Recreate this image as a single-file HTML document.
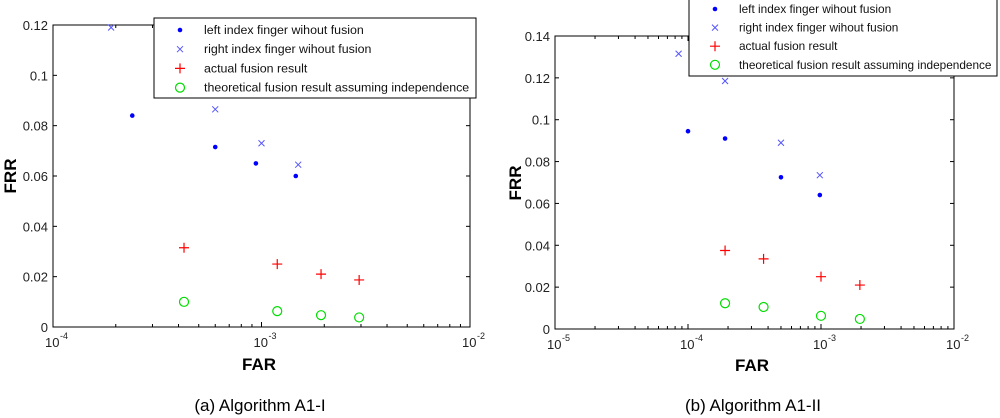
<!DOCTYPE html>
<html><head><meta charset="utf-8"><style>
html,body{margin:0;padding:0;background:#fff;width:1000px;height:418px;overflow:hidden}
svg{display:block;font-family:"Liberation Sans",Arial,sans-serif}
</style></head><body>
<svg id="svg" width="1000" height="418"></svg>
<script>
// Chart A data
const aLeftX=[2.4e-4,6e-4,9.4e-4,1.46e-3], aLeftY=[0.084,0.0715,0.065,0.060];
const aRightX=[1.9e-4,6e-4,1e-3,1.5e-3], aRightY=[0.119,0.0865,0.073,0.0645];
const aActX=[4.25e-4,1.19e-3,1.93e-3,2.94e-3], aActY=[0.0315,0.025,0.021,0.0187];
const aTheoX=[4.25e-4,1.19e-3,1.93e-3,2.94e-3], aTheoY=[0.010,0.0063,0.0047,0.0038];
const aYTicks=[0,0.02,0.04,0.06,0.08,0.1,0.12];
const aYLabels=["0","0.02","0.04","0.06","0.08","0.1","0.12"];
const aXExp=[-4,-3,-2];
// Chart B data
const bLeftX=[1e-4,1.9e-4,5e-4,9.8e-4], bLeftY=[0.0945,0.091,0.0725,0.064];
const bRightX=[8.5e-5,1.9e-4,5e-4,9.8e-4], bRightY=[0.1315,0.1185,0.089,0.0735];
const bActX=[1.9e-4,3.7e-4,1e-3,1.96e-3], bActY=[0.0375,0.0335,0.025,0.021];
const bTheoX=[1.9e-4,3.7e-4,1e-3,1.96e-3], bTheoY=[0.0123,0.0105,0.0063,0.0048];
const bYTicks=[0,0.02,0.04,0.06,0.08,0.1,0.12,0.14];
const bYLabels=["0","0.02","0.04","0.06","0.08","0.1","0.12","0.14"];
const bXExp=[-5,-4,-3,-2];
const legendLabels=["left index finger wihout fusion","right index finger wihout fusion","actual fusion result","theoretical fusion result assuming independence"];

const svg=document.getElementById('svg');const NS='http://www.w3.org/2000/svg';
function el(t,a,p){const e=document.createElementNS(NS,t);for(const k in a)e.setAttribute(k,a[k]);(p||svg).appendChild(e);return e;}
function marker(g,type,x,y){
 if(type==='dot'){const e=el('circle',{cx:x,cy:y,r:2.3,fill:'#0000ff'},g);}
 else if(type==='x'){const e=el('path',{d:`M${x-3},${y-3}L${x+3},${y+3}M${x-3},${y+3}L${x+3},${y-3}`,stroke:'#5555ff','stroke-width':1},g);}
 else if(type==='+'){const e=el('path',{d:`M${x-5},${y}L${x+5},${y}M${x},${y-5}L${x},${y+5}`,stroke:'#ff0000','stroke-width':1.2},g);}
 else {const e=el('circle',{cx:x,cy:y,r:4.5,fill:'none',stroke:'#00dd00','stroke-width':1.2},g);}
}
function chart(o){
 const g=el('g',{});
 const {L,R,T,B}=o;const e0=o.xExp[0],e1=o.xExp[o.xExp.length-1];
 const xs=v=>L+(Math.log10(v)-e0)/(e1-e0)*(R-L);
 const ymax=o.yTicks[o.yTicks.length-1];
 const ys=v=>B-v/ymax*(B-T);
 const box=el('rect',{x:L,y:T,width:R-L,height:B-T,fill:'none',stroke:'#000','stroke-width':1},g);
 
 o.yTicks.forEach((v,i)=>{const y=ys(v);
  el('line',{x1:L,x2:L+4,y1:y,y2:y,stroke:'#000'},g);el('line',{x1:R-4,x2:R,y1:y,y2:y,stroke:'#000'},g);
  const t=el('text',{x:L-5,y:y+5,'text-anchor':'end','font-size':13,fill:'#222'},g);t.textContent=o.yLabels[i];
  });
 for(let e=e0;e<e1;e++)for(let m=2;m<=9;m++){const x=xs(m*Math.pow(10,e));
  el('line',{x1:x,x2:x,y1:B,y2:B-3,stroke:'#000'},g);el('line',{x1:x,x2:x,y1:T,y2:T+3,stroke:'#000'},g);}
 o.xExp.forEach(e=>{const x=xs(Math.pow(10,e));
  el('line',{x1:x,x2:x,y1:B,y2:B-5,stroke:'#000'},g);el('line',{x1:x,x2:x,y1:T,y2:T+5,stroke:'#000'},g);
  const t=el('text',{x:x-8,y:B+20,'font-size':13,fill:'#222'},g);t.textContent='10';
  
  const s=el('text',{x:x+7,y:B+12,'font-size':9,fill:'#222'},g);s.textContent=String(e);});
 o.series.forEach(s=>s.x.forEach((xv,i)=>marker(g,s.type,xs(xv),ys(s.y[i]))));
 const lg=el('g',{},g);
 el('rect',{x:o.lg[0],y:o.lg[1],width:o.lg[2],height:o.lg[3],fill:'#fff',stroke:'#000'},lg);
 ['dot','x','+','o'].forEach((t,i)=>{const y=o.lgY+i*o.lgStep;marker(lg,t,o.lg[0]+26,y);
  const tx=el('text',{x:o.lg[0]+50,y:y+4,'font-size':o.lgFont,fill:'#111'},lg);tx.textContent=legendLabels[i];
  });
 const fy=el('text',{x:0,y:0,'font-size':17,'font-weight':'bold',transform:`translate(${o.frr[0]},${o.frr[1]}) rotate(-90)`,'text-anchor':'middle'},g);fy.textContent='FRR';
 
 const fx=el('text',{x:o.far[0],y:o.far[1],'font-size':17,'font-weight':'bold','text-anchor':'middle'},g);fx.textContent='FAR';
 
 const c=el('text',{x:o.cap[0],y:o.cap[1],'font-size':17,'text-anchor':'middle'},g);c.textContent=o.caption;
 
}
chart({name:'chart-a',L:53,R:470,T:25,B:327,xExp:aXExp,yTicks:aYTicks,yLabels:aYLabels,
 series:[{type:'dot',x:aLeftX,y:aLeftY},{type:'x',x:aRightX,y:aRightY},{type:'+',x:aActX,y:aActY},{type:'o',x:aTheoX,y:aTheoY}],
 lg:[154,18,322,80],lgY:30,lgStep:19.2,lgFont:12.4,frr:[16,176],far:[259,370],cap:[260,411],caption:'(a) Algorithm A1-I'});
chart({name:'chart-b',L:555,R:954,T:36,B:329,xExp:bXExp,yTicks:bYTicks,yLabels:bYLabels,
 series:[{type:'dot',x:bLeftX,y:bLeftY},{type:'x',x:bRightX,y:bRightY},{type:'+',x:bActX,y:bActY},{type:'o',x:bTheoX,y:bTheoY}],
 lg:[689,-10,308,86],lgY:9,lgStep:18.6,lgFont:11.8,frr:[521,183],far:[752,371],cap:[753,411],caption:'(b) Algorithm A1-II'});
</script>
</body></html>
